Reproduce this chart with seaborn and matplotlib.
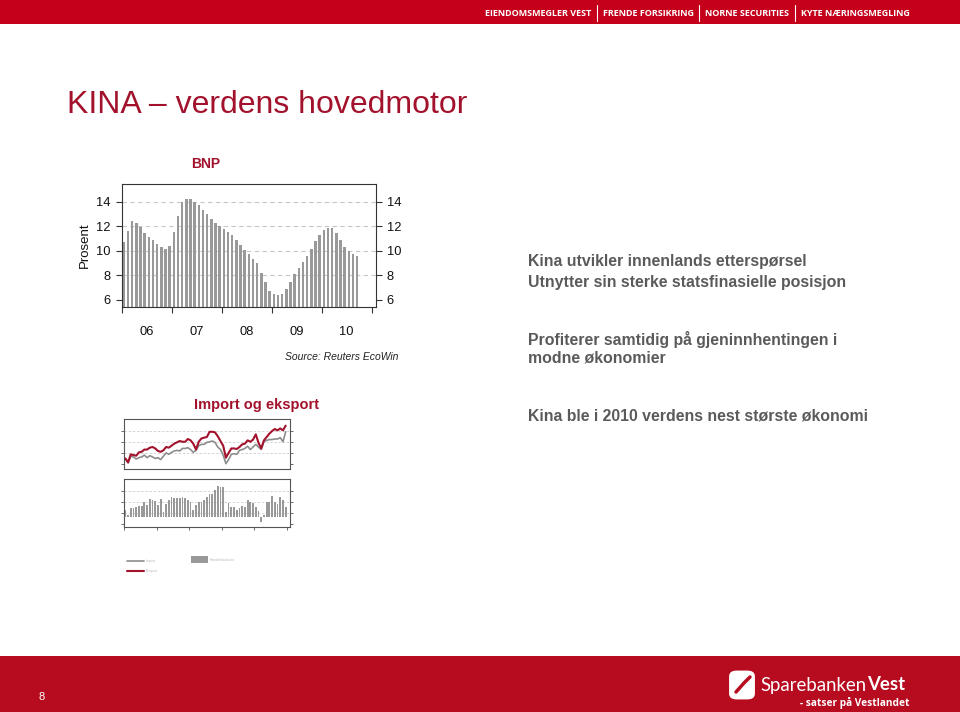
import matplotlib
matplotlib.use("Agg")
import matplotlib.pyplot as plt
import seaborn as sns
import numpy as np
import pandas as pd
from matplotlib.patches import Rectangle, FancyBboxPatch, Patch
from matplotlib.lines import Line2D

# ---------------- data ----------------
year_labels = ["06", "07", "08", "09", "10"]

# BNP, yoy % (monthly resolution, Jan 2006 - Sep 2010)
bnp = [10.72, 11.61, 12.40, 12.29, 11.97, 11.48, 11.13, 10.85, 10.58, 10.28, 10.18, 10.39,
       11.53, 12.83, 13.97, 14.24, 14.22, 13.97, 13.70, 13.35, 12.97, 12.62, 12.29, 11.99,
       11.75, 11.53, 11.26, 10.91, 10.50, 10.07, 9.74, 9.36, 8.98, 8.22, 7.46, 6.76,
       6.49, 6.38, 6.52, 6.92, 7.46, 8.09, 8.58, 9.06, 9.58, 10.18, 10.77, 11.26,
       11.69, 11.86, 11.88, 11.45, 10.88, 10.28, 10.01, 9.77, 9.55]

# Import / eksport (monthly Jan 2006 - Dec 2010, index units)
eksport = [0.50, 0.15, 0.87, 0.80, 0.75, 1.05, 1.10, 1.30, 1.30, 1.47, 1.53, 1.40,
           1.17, 1.10, 1.23, 1.53, 1.47, 1.65, 1.83, 1.95, 2.07, 2.00, 2.00, 2.25,
           2.13, 1.83, 1.30, 2.00, 2.30, 2.37, 2.43, 2.90, 2.90, 2.85, 2.50, 2.07,
           1.65, 0.57, 1.00, 1.40, 1.40, 1.35, 1.53, 1.77, 1.83, 2.13, 2.00, 2.20,
           2.67, 1.90, 1.40, 2.13, 2.43, 2.73, 2.97, 3.15, 3.03, 3.20, 3.03, 3.45]
importv = [0.45, 0.10, 0.70, 0.63, 0.45, 0.57, 0.63, 0.80, 0.57, 0.75, 0.63, 0.50,
           0.57, 0.40, 0.70, 1.00, 0.87, 1.05, 1.17, 1.23, 1.17, 1.40, 1.40, 1.47,
           1.30, 1.05, 1.23, 1.65, 1.77, 1.77, 1.95, 2.00, 2.07, 1.95, 1.53, 1.30,
           0.80, 0.03, 0.40, 0.87, 0.93, 0.87, 1.23, 1.30, 1.40, 1.60, 1.30, 1.53,
           1.77, 1.53, 1.30, 2.00, 2.13, 2.20, 2.20, 2.25, 2.25, 2.37, 2.00, 2.90]
# Handelsbalanse
balanse = [6.4, 1.5, 7.6, 7.6, 8.8, 10.0, 10.0, 13.0, 10.6, 16.0, 15.5, 14.2,
           10.6, 16.0, 4.5, 11.2, 14.8, 17.9, 16.7, 16.7, 16.7, 17.9, 17.3, 14.8,
           13.0, 5.8, 10.6, 13.6, 13.6, 15.5, 17.9, 20.3, 20.3, 24.5, 27.6, 27.0,
           27.0, 3.9, 12.4, 8.8, 8.8, 5.8, 7.6, 10.0, 8.8, 15.5, 13.0, 12.4,
           8.8, 5.2, -5.2, 1.5, 13.6, 13.6, 19.0, 13.0, 11.2, 17.9, 15.5, 8.8]

# ---------------- style ----------------
sns.set_theme(style="white")
plt.rcParams['font.family'] = ['Liberation Sans', 'DejaVu Sans']

RED_T = "#a3122c"
RED_BAND = "#c4001a"
GRAY_BAR = "#999999"
TXT_GRAY = "#5a5a5a"

W, H = 960, 712
fig = plt.figure(figsize=(9.6, 7.12), dpi=100)
fig.patch.set_facecolor("white")

def fx(px):
    return px / W

def fy(py):
    return 1 - py / H

# header band
fig.add_artist(Rectangle((0, fy(24)), 1, 24 / H, transform=fig.transFigure,
                         facecolor=RED_BAND, edgecolor="none", zorder=0))
hdr = [("EIENDOMSMEGLER VEST", 485), ("FRENDE FORSIKRING", 603),
       ("NORNE SECURITIES", 705), ("KYTE NÆRINGSMEGLING", 801)]
for t, x in hdr:
    fig.text(fx(x), fy(13), t, color="white", fontsize=6.5, fontweight="bold",
             family=["Open Sans", "DejaVu Sans"], ha="left", va="center")
for x in [597, 699, 795]:
    fig.add_artist(Line2D([fx(x), fx(x)], [fy(5), fy(21)], transform=fig.transFigure,
                          color="white", lw=0.8))

# footer band
fig.add_artist(Rectangle((0, 0), 1, 56 / H, transform=fig.transFigure,
                         facecolor="#b70c20", edgecolor="none", zorder=0))
fig.text(fx(42), fy(697), "8", color="white", fontsize=8, ha="center", va="center")
fig.add_artist(FancyBboxPatch((fx(731), fy(698)), fx(22), 26 / H,
                              boxstyle="round,pad=0.002,rounding_size=0.008",
                              transform=fig.transFigure, facecolor="white",
                              edgecolor="none", mutation_aspect=1))
fig.add_artist(Line2D([fx(736), fx(744), fx(750)], [fy(692), fy(683), fy(677)],
                      transform=fig.transFigure, color="#b70c20", lw=2.5))
fig.text(fx(867), fy(685), "Sparebanken", color="white", fontsize=13.4,
         family=["Lato", "DejaVu Sans"], ha="right", va="center")
fig.text(fx(867), fy(685), "Vest", color="white", fontsize=13.4, fontweight="bold",
         family=["Lato", "DejaVu Sans"], ha="left", va="center")
fig.text(fx(910), fy(703), "- satser på Vestlandet", color="white", fontsize=7.3,
         fontweight="bold", family=["Open Sans", "DejaVu Sans"], ha="right", va="center")

# title
fig.text(fx(67), fy(105), "KINA – verdens hovedmotor", color=RED_T, fontsize=23,
         ha="left", va="center")

# right-hand text
rt = [("Kina utvikler innenlands etterspørsel", 262),
      ("Utnytter sin sterke statsfinasielle posisjon", 282),
      ("Profiterer samtidig på gjeninnhentingen i", 340),
      ("modne økonomier", 358),
      ("Kina ble i 2010 verdens nest største økonomi", 416)]
for t, y in rt:
    fig.text(fx(528), fy(y), t, color=TXT_GRAY, fontsize=11.4, fontweight="bold",
             ha="left", va="center")

# ---------------- BNP chart ----------------
fig.text(fx(206), fy(164), "BNP", color=RED_T, fontsize=10, fontweight="bold",
         ha="center", va="center")
ax1 = fig.add_axes([fx(121.7), fy(306.7), fx(375.7) - fx(121.7), (306.7 - 184) / H])
df_bnp = pd.DataFrame({"m": np.arange(len(bnp)), "v": bnp})
sns.barplot(data=df_bnp, x="m", y="v", native_scale=True, color=GRAY_BAR,
            saturation=1, width=0.6, linewidth=0, edgecolor="none", ax=ax1)
ax1.set_xlim(-0.5, 60.46)
ax1.set_ylim(5.45, 15.45)
ax1.set_xlabel("")
ax1.set_ylabel("")
ax1.set_yticks([6, 8, 10, 12, 14])
ax1.set_yticklabels(["6", "8", "10", "12", "14"])
ax1.yaxis.grid(True, linestyle=(0, (4, 3)), color="#c8c8c8", lw=0.8)
ax1.yaxis.get_gridlines()[0].set_visible(False)
ax1.set_axisbelow(True)
ax1.tick_params(axis="y", which="both", left=True, right=True, labelleft=True,
                labelright=True, direction="out", length=4, width=0.8,
                color="#333333", labelsize=9.3, pad=4, labelcolor="#111111")
year_bounds = [-0.5 + 12 * k for k in range(6)]
year_centers = [5.5 + 12 * k for k in range(5)]
ax1.set_xticks(year_bounds)
ax1.set_xticklabels([""] * 6)
ax1.set_xticks(year_centers, minor=True)
ax1.set_xticklabels(year_labels, minor=True)
ax1.tick_params(axis="x", which="major", bottom=True, direction="out", length=4,
                width=0.8, color="#333333")
ax1.tick_params(axis="x", which="minor", bottom=False, length=0, labelsize=9.3,
                pad=14, labelcolor="#111111")
for s in ax1.spines.values():
    s.set_color("#333333")
    s.set_linewidth(0.8)
    s.set_visible(True)
fig.text(fx(85), fy(245), "Prosent", rotation=90, fontsize=9.5, ha="center",
         va="center", color="#111111")
fig.text(fx(398), fy(357), "Source: Reuters EcoWin", fontsize=7.5, style="italic",
         ha="right", va="center", color="#222222")

# ---------------- Import og eksport ----------------
fig.text(fx(257), fy(405), "Import og eksport", color=RED_T, fontsize=10.5,
         fontweight="bold", ha="center", va="center")

ax2 = fig.add_axes([fx(124), fy(469), fx(290.3) - fx(124), 50 / H])
df_tr = pd.DataFrame({
    "m": np.concatenate([np.arange(len(importv)), np.arange(len(eksport))]),
    "v": importv + eksport,
    "serie": ["Import"] * len(importv) + ["Eksport"] * len(eksport)})
sns.lineplot(data=df_tr, x="m", y="v", hue="serie",
             palette={"Import": "#8d8d8d", "Eksport": "#a3122c"},
             hue_order=["Import", "Eksport"], ax=ax2, legend=False)
for ln, lw in zip(ax2.get_lines(), [1.2, 1.5]):
    ln.set_linewidth(lw)
ax2.set_xlim(-0.5, 60.7)
ax2.set_ylim(-0.45, 4.05)
ax2.set_yticks([0, 1, 2, 3])
ax2.set_yticklabels([])
ax2.yaxis.grid(True, linestyle=(0, (3, 2)), color="#cfcfcf", lw=0.6)
ax2.yaxis.get_gridlines()[0].set_visible(False)
ax2.set_axisbelow(True)
ax2.set_xticks([])
ax2.set_xlabel("")
ax2.set_ylabel("")
ax2.tick_params(axis="y", left=True, right=True, direction="out", length=2.5,
                width=0.6, color="#555555")

ax3 = fig.add_axes([fx(124), fy(527.3), fx(290.3) - fx(124), 48.3 / H])
df_bal = pd.DataFrame({"m": np.arange(len(balanse)), "v": balanse})
sns.barplot(data=df_bal, x="m", y="v", native_scale=True, color=GRAY_BAR,
            saturation=1, width=0.65, linewidth=0, edgecolor="none", ax=ax3)
ax3.set_xlim(-0.5, 60.7)
ax3.set_ylim(-9.7, 34.2)
ax3.set_yticks([-6.7, 3.6, 13.6, 23.6])
ax3.set_yticklabels([])
ax3.yaxis.grid(True, linestyle=(0, (3, 2)), color="#cfcfcf", lw=0.6)
ax3.yaxis.get_gridlines()[0].set_visible(False)
ax3.set_axisbelow(True)
ax3.set_xticks(year_bounds)
ax3.set_xticklabels([])
ax3.set_xlabel("")
ax3.set_ylabel("")
ax3.tick_params(axis="y", left=True, right=True, direction="out", length=2.5,
                width=0.6, color="#555555")
ax3.tick_params(axis="x", bottom=True, direction="out", length=2.5, width=0.6,
                color="#555555")

for a in (ax2, ax3):
    for s in a.spines.values():
        s.set_color("#555555")
        s.set_linewidth(0.8)
        s.set_visible(True)

# legend for import/export chart (tiny, as in the reference)
h_lines = [Line2D([], [], color="#8d8d8d", lw=1.2), Line2D([], [], color="#a3122c", lw=1.5)]
leg1 = fig.legend(h_lines, ["Import", "Eksport"], loc="upper left",
                  bbox_to_anchor=(fx(126), fy(558)), frameon=False, fontsize=2.5,
                  handlelength=4.8, handletextpad=0.4, labelspacing=1.6,
                  labelcolor="#bdbdbd", borderaxespad=0)
leg2 = fig.legend([Patch(facecolor=GRAY_BAR, edgecolor="none")], ["Handelsbalanse"],
                  loc="upper left", bbox_to_anchor=(fx(190), fy(555)), frameon=False,
                  fontsize=2.5, handlelength=4.8, handleheight=2.4, handletextpad=0.4,
                  labelcolor="#bdbdbd", borderaxespad=0)

fig.savefig("out.png", dpi=100)
